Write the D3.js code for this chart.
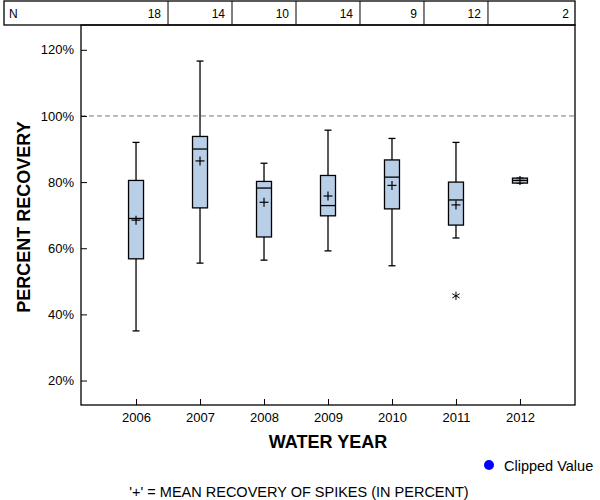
<!DOCTYPE html>
<html>
<head>
<meta charset="utf-8">
<script src="https://cdn.jsdelivr.net/npm/d3@7"></script>
<style>
  body { margin: 0; background: #fff; }
  text { font-family: "Liberation Sans", Arial, sans-serif; }
</style>
</head>
<body>
<div id="chart"></div>
<script>
// Data
const years = ['2006', '2007', '2008', '2009', '2010', '2011', '2012'];
const counts = [18, 14, 10, 14, 9, 12, 2];
const whiskerLow = [35.0, 55.5, 56.4, 59.2, 54.7, 63.1, 79.7];
const q1 = [56.8, 72.2, 63.4, 69.8, 71.9, 67.0, 79.7];
const median = [69.0, 90.0, 78.2, 72.9, 81.5, 74.6, 80.5];
const q3 = [80.5, 93.8, 80.2, 82.0, 86.7, 80.0, 81.2];
const whiskerHigh = [92.0, 116.6, 85.7, 95.7, 93.2, 92.0, 81.2];
const means = [68.5, 86.4, 73.9, 75.8, 79.0, 73.1, 80.5];
const outliers = [{ year: '2011', value: 45.6 }];
const yTicks = [20, 40, 60, 80, 100, 120];

const width = 600, height = 500;
const plot = { left: 81, right: 575, top: 25, bottom: 405 };

const svg = d3.select('#chart').append('svg')
    .attr('width', width)
    .attr('height', height);

// Scales
const x = d3.scalePoint()
    .domain(years)
    .range([plot.left, plot.right])
    .padding(0.86);

const y = d3.scaleLinear()
    .domain([12.6, 127.5])
    .range([plot.bottom, plot.top]);

const boxes = years.map((yr, i) => ({
    year: yr, lo: whiskerLow[i], q1: q1[i], med: median[i],
    q3: q3[i], hi: whiskerHigh[i], mean: means[i]
}));

// Reference line at 100%
svg.append('line')
    .attr('x1', plot.left).attr('x2', plot.right)
    .attr('y1', y(100)).attr('y2', y(100))
    .attr('stroke', '#7a7a7a')
    .attr('stroke-dasharray', '5,3');

// Axes (ticks inside)
const yAxis = svg.append('g')
    .attr('transform', `translate(${plot.left},0)`)
    .call(d3.axisRight(y).tickValues(yTicks).tickSize(6).tickFormat(d => d + '%'));
yAxis.select('.domain').remove();
yAxis.selectAll('line').attr('stroke', '#000');
yAxis.selectAll('text')
    .attr('x', -7)
    .attr('text-anchor', 'end')
    .attr('font-size', 13)
    .attr('fill', '#000');

const xAxis = svg.append('g')
    .attr('transform', `translate(0,${plot.bottom})`)
    .call(d3.axisTop(x).tickSize(6));
xAxis.select('.domain').remove();
xAxis.selectAll('line').attr('stroke', '#000');
xAxis.selectAll('text')
    .attr('y', 17)
    .attr('dy', null)
    .attr('font-size', 13)
    .attr('fill', '#000');

// Plot frame
svg.append('rect')
    .attr('x', plot.left).attr('y', plot.top)
    .attr('width', plot.right - plot.left)
    .attr('height', plot.bottom - plot.top)
    .attr('fill', 'none')
    .attr('stroke', '#000')
    .attr('stroke-width', 1.3);

// Boxes
const boxW = 15, capW = 7, plusW = 9;
const g = svg.selectAll('.box')
    .data(boxes)
    .enter().append('g')
    .attr('class', 'box')
    .attr('transform', d => `translate(${x(d.year)},0)`);

g.append('line')
    .attr('y1', d => y(d.hi)).attr('y2', d => y(d.lo))
    .attr('stroke', '#000').attr('stroke-width', 1.3);
g.append('line')
    .attr('x1', -capW / 2).attr('x2', capW / 2)
    .attr('y1', d => y(d.hi)).attr('y2', d => y(d.hi))
    .attr('stroke', '#000').attr('stroke-width', 1.3);
g.append('line')
    .attr('x1', -capW / 2).attr('x2', capW / 2)
    .attr('y1', d => y(d.lo)).attr('y2', d => y(d.lo))
    .attr('stroke', '#000').attr('stroke-width', 1.3);
g.append('rect')
    .attr('x', -boxW / 2).attr('width', boxW)
    .attr('y', d => y(d.q3))
    .attr('height', d => y(d.q1) - y(d.q3))
    .attr('fill', '#b8cfe7')
    .attr('stroke', '#000').attr('stroke-width', 1.3);
g.append('line')
    .attr('x1', -boxW / 2).attr('x2', boxW / 2)
    .attr('y1', d => y(d.med)).attr('y2', d => y(d.med))
    .attr('stroke', '#000').attr('stroke-width', 1.3);
// Mean marker
g.append('line')
    .attr('x1', -plusW / 2).attr('x2', plusW / 2)
    .attr('y1', d => y(d.mean)).attr('y2', d => y(d.mean))
    .attr('stroke', '#000').attr('stroke-width', 1.2);
g.append('line')
    .attr('y1', d => y(d.mean) - plusW / 2).attr('y2', d => y(d.mean) + plusW / 2)
    .attr('stroke', '#000').attr('stroke-width', 1.2);

// Outliers
svg.selectAll('.outlier')
    .data(outliers)
    .enter().append('path')
    .attr('class', 'outlier')
    .attr('transform', d => `translate(${x(d.year)},${y(d.value)})`)
    .attr('d', d3.symbol().type(d3.symbolAsterisk).size(50))
    .attr('fill', 'none')
    .attr('stroke', '#000')
    .attr('stroke-width', 1);

// Header table with counts
const step = x.step();
const header = svg.append('g');
const hTop = 1, hBottom = plot.top;
header.append('rect')
    .attr('x', 4).attr('y', hTop)
    .attr('width', plot.right - 4)
    .attr('height', hBottom - hTop)
    .attr('fill', 'none')
    .attr('stroke', '#000')
    .attr('stroke-width', 1.3);
header.selectAll('.div')
    .data(years.slice(1))
    .enter().append('line')
    .attr('x1', d => x(d) - step / 2).attr('x2', d => x(d) - step / 2)
    .attr('y1', hTop).attr('y2', hBottom)
    .attr('stroke', '#000');
header.append('text')
    .attr('x', 9).attr('y', 18)
    .attr('font-size', 12)
    .text('N');
header.selectAll('.count')
    .data(years)
    .enter().append('text')
    .attr('x', (d, i) => i === years.length - 1 ? plot.right - 6 : x(d) + step / 2 - 7)
    .attr('y', 18)
    .attr('text-anchor', 'end')
    .attr('font-size', 12)
    .text((d, i) => counts[i]);

// Axis titles
svg.append('text')
    .attr('x', (plot.left + plot.right) / 2)
    .attr('y', 448)
    .attr('text-anchor', 'middle')
    .attr('font-size', 18)
    .attr('font-weight', 'bold')
    .text('WATER YEAR');

svg.append('text')
    .attr('transform', `translate(30,${(plot.top + plot.bottom) / 2 + 2}) rotate(-90)`)
    .attr('text-anchor', 'middle')
    .attr('font-size', 18)
    .attr('font-weight', 'bold')
    .text('PERCENT RECOVERY');

// Legend
svg.append('circle')
    .attr('cx', 489).attr('cy', 465).attr('r', 5)
    .attr('fill', '#0000ff');
svg.append('text')
    .attr('x', 504).attr('y', 471)
    .attr('font-size', 14.5)
    .text('Clipped Value');

// Footnote
svg.append('text')
    .attr('x', 299).attr('y', 497)
    .attr('text-anchor', 'middle')
    .attr('font-size', 14.5)
    .text("'+' = MEAN RECOVERY OF SPIKES (IN PERCENT)");
</script>
</body>
</html>
